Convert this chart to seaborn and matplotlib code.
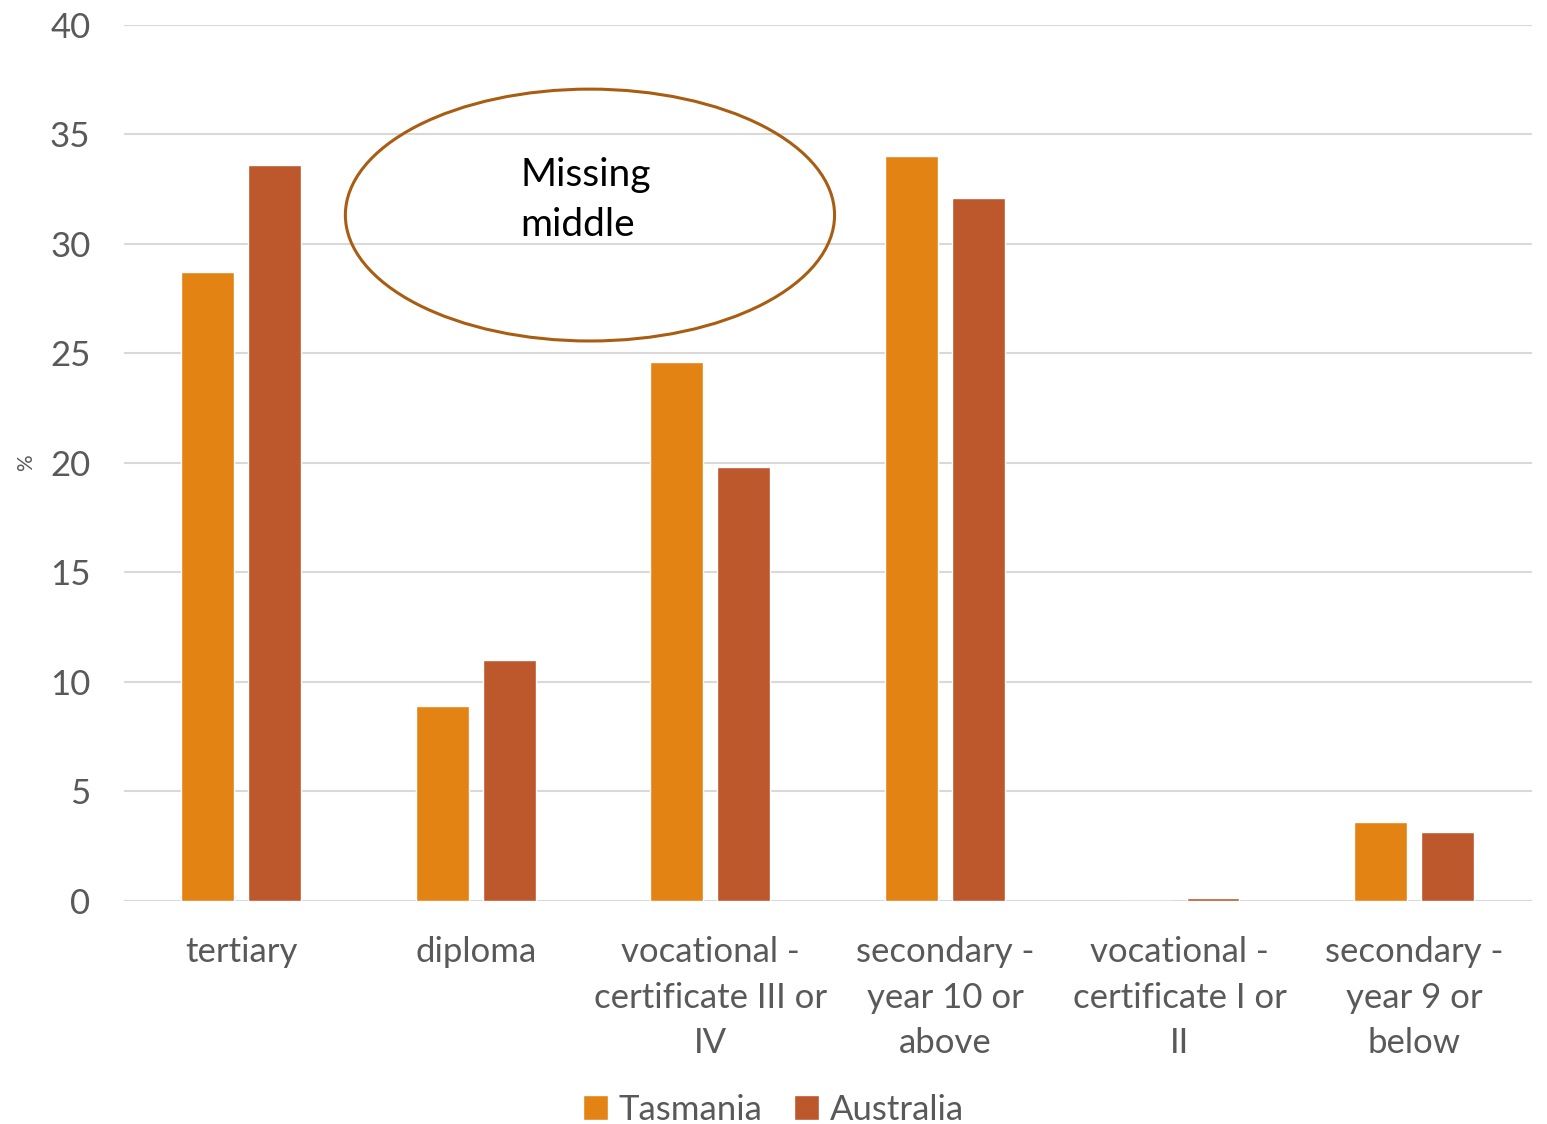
import matplotlib
matplotlib.use("Agg")
import matplotlib.pyplot as plt
from matplotlib.patches import Ellipse
import pandas as pd
import seaborn as sns

categories = ["tertiary", "diploma", "vocational -\ncertificate III or\nIV",
              "secondary -\nyear 10 or\nabove", "vocational -\ncertificate I or\nII",
              "secondary -\nyear 9 or\nbelow"]
tasmania = [28.7, 8.9, 24.6, 34.0, 0.0, 3.6]
australia = [33.6, 11.0, 19.8, 32.1, 0.15, 3.15]
series = ["Tasmania", "Australia"]
colors = ["#E38314", "#BC582C"]

df = pd.DataFrame({
    "category": categories * 2,
    "value": tasmania + australia,
    "region": [series[0]] * len(categories) + [series[1]] * len(categories),
})

sns.set_theme(style="white")
plt.rcParams["font.family"] = ["Lato", "DejaVu Sans"]

fig = plt.figure(figsize=(15.47, 11.24), dpi=100)
ax = fig.add_axes([0.080, 0.1984, 0.910, 0.7794])

sns.barplot(data=df, x="category", y="value", hue="region", order=categories,
            hue_order=series, palette=colors, width=0.57, gap=0.21,
            saturation=1, ax=ax, legend=True)

ax.set_ylim(0, 40)
ax.set_xlim(-0.5, len(categories) - 0.5)
ax.set_yticks(range(0, 41, 5))
ax.yaxis.grid(True, color="#D9D9D9", linewidth=1.5)
ax.set_axisbelow(True)
for s in ax.spines.values():
    s.set_visible(False)
ax.axhline(0, color="#D9D9D9", linewidth=2, zorder=0.5)
ax.tick_params(axis="both", length=0, labelcolor="#595959")
ax.tick_params(axis="x", pad=25)
ax.tick_params(axis="y", pad=24, labelsize=25)
ax.set_xticks(range(len(categories)))
ax.set_xticklabels(categories, fontsize=25, linespacing=1.53)
ax.set_xlabel("")
ax.set_ylabel("%", fontsize=15, color="#595959")
ax.yaxis.set_label_coords(-0.062, 0.5)

# highlight around the gap in the middle qualifications
ell = Ellipse((1.487, 31.32), 2.085, 11.5, fill=False, edgecolor="#A85D12",
              linewidth=2.2, zorder=5)
ax.add_patch(ell)
ax.text(1.19, 32.0, "Missing\nmiddle", fontsize=28, color="black",
        ha="left", va="center", linespacing=1.5, zorder=6)

handles, labels = ax.get_legend_handles_labels()
ax.get_legend().remove()
fig.legend(handles, labels, loc="center", bbox_to_anchor=(0.5, 0.0125), ncol=2,
           frameon=False, fontsize=25, handlelength=0.72, handleheight=0.72,
           handletextpad=0.3, columnspacing=0.9, labelcolor="#595959",
           borderpad=0)

fig.savefig("out.png", dpi=100)
